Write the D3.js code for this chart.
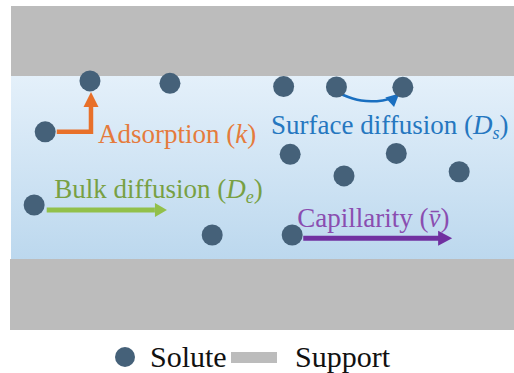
<!DOCTYPE html>
<html><head><meta charset="utf-8">
<script src="https://cdn.jsdelivr.net/npm/d3@7"></script>
<style>
html,body{margin:0;padding:0;background:#fff;}
svg{display:block;}
</style></head>
<body>
<svg id="chart" width="514" height="373"></svg>
<script>
// Diagram units: x along the channel 0..100, y across the channel 0 (top wall) .. 100 (bottom wall)
const soluteX = [15.7, 31.6, 54.2, 64.7, 77.9, 6.8, 55.5, 76.6, 66.2, 89.1, 4.6, 40.0, 55.9];
const soluteY = [2.7, 4.0, 5.8, 6.0, 6.2, 30.5, 42.8, 42.3, 54.6, 52.3, 70.5, 86.9, 86.9];

const processLabels = ["Adsorption", "Surface diffusion", "Bulk diffusion", "Capillarity"];
const processSymbols = ["k", "D", "D", "v\u0304"];
const processSubs = ["", "s", "e", ""];
const labelX = [17.3, 51.7, 8.6, 56.9];
const labelY = [36.6, 31.7, 66.7, 82.5];

// arrows: orange (adsorption elbow), green (bulk), purple (capillarity), blue curve (surface)
const adsorptionPath = [[9.1, 30.5], [15.9, 30.5], [15.9, 8.7]];
const bulkArrow = [[7.1, 73.2], [31.0, 73.2]];
const capArrow = [[58.1, 88.6], [87.7, 88.6]];
const surfaceCurve = [[65.2, 9.4], [69.5, 14.4], [74.5, 13.5], [77.2, 9.6]];

const legendLabels = ["Solute", "Support"];

const svg = d3.select("#chart");
const W = 514;
const x = d3.scaleLinear().domain([0, 100]).range([11, 514]);
const y = d3.scaleLinear().domain([0, 100]).range([76, 259]);
const FONT = '"Liberation Serif","Tinos","Times New Roman","DejaVu Serif",serif';

const defs = svg.append("defs");
const grad = defs.append("linearGradient").attr("id", "band").attr("x1", 0).attr("y1", 0).attr("x2", 0).attr("y2", 1);
grad.append("stop").attr("offset", "0%").attr("stop-color", "#e4f0fa");
grad.append("stop").attr("offset", "100%").attr("stop-color", "#bcd8ee");

// support walls
svg.append("rect").attr("x", x(0)).attr("y", 6).attr("width", W - x(0)).attr("height", y(0) - 6).attr("fill", "#bcbcbc");
svg.append("rect").attr("x", x(0) - 1).attr("y", y(100)).attr("width", W - x(0) + 1).attr("height", 330 - y(100)).attr("fill", "#bcbcbc");
// channel
svg.append("rect").attr("x", x(0)).attr("y", y(0)).attr("width", W - x(0)).attr("height", y(100) - y(0)).attr("fill", "url(#band)");

function arrowHead(g, tip, dir, len, half, color) {
  const [tx, ty] = tip;
  const [dx, dy] = dir;
  const nx = -dy, ny = dx;
  const bx = tx - dx * len, by = ty - dy * len;
  g.append("path")
    .attr("d", `M${tx},${ty}L${bx + nx * half},${by + ny * half}L${bx - nx * half},${by - ny * half}Z`)
    .attr("fill", color);
}

const line = d3.line().x(d => x(d[0])).y(d => y(d[1]));
const ga = svg.append("g");

// Adsorption elbow arrow
{
  const tip = adsorptionPath[2];
  const pts = adsorptionPath.slice(0, 2).concat([[tip[0], tip[1] + 7]]);
  ga.append("path").attr("d", line(pts)).attr("fill", "none").attr("stroke", "#e8702a").attr("stroke-width", 4.5);
  arrowHead(ga, [x(tip[0]), y(tip[1])], [0, -1], 15, 7.5, "#e8702a");
}
// Bulk arrow
ga.append("path").attr("d", line(bulkArrow.map((d, i) => i === 1 ? [d[0] - 2.4, d[1]] : d))).attr("stroke", "#92c04a").attr("stroke-width", 5);
arrowHead(ga, [x(bulkArrow[1][0]), y(bulkArrow[1][1])], [1, 0], 12, 7, "#92c04a");
// Capillarity arrow
ga.append("path").attr("d", line(capArrow.map((d, i) => i === 1 ? [d[0] - 2.4, d[1]] : d))).attr("stroke", "#7030a0").attr("stroke-width", 5);
arrowHead(ga, [x(capArrow[1][0]), y(capArrow[1][1])], [1, 0], 14, 7.5, "#7030a0");
// Surface diffusion curve
const curve = d3.line().x(d => x(d[0])).y(d => y(d[1])).curve(d3.curveBasis);
ga.append("path").attr("d", curve(surfaceCurve.slice(0, 3).concat([[76.0, 11.6]])))
  .attr("fill", "none").attr("stroke", "#1a6fc0").attr("stroke-width", 2.5);
arrowHead(ga, [x(surfaceCurve[3][0]), y(surfaceCurve[3][1])], [0.74, -0.67], 13, 6.5, "#1a6fc0");

// solutes
svg.append("g").selectAll("circle").data(soluteX).join("circle")
  .attr("cx", d => x(d)).attr("cy", (d, i) => y(soluteY[i])).attr("r", 10.5).attr("fill", "#456179");

// labels
const textColors = ["#e57b3c", "#2577c0", "#78a043", "#8a4db0"];
const sizes = [27, 27, 27, 27];
processLabels.forEach((lab, i) => {
  const t = svg.append("text").attr("x", x(labelX[i])).attr("y", y(labelY[i]))
    .style("font-family", FONT)
    .attr("fill", textColors[i]).attr("font-size", sizes[i]);
  t.append("tspan").text(lab + " (");
  t.append("tspan").attr("font-style", "italic").text(processSymbols[i]);
  if (processSubs[i]) {
    t.append("tspan").attr("font-style", "italic").attr("font-size", 18).attr("dy", 5).text(processSubs[i]);
    t.append("tspan").attr("dy", -5).text(")");
  } else {
    t.append("tspan").text(")");
  }
});

// legend
const lg = svg.append("g");
lg.append("circle").attr("cx", 125).attr("cy", 357).attr("r", 10).attr("fill", "#456179");
lg.append("text").attr("x", 150).attr("y", 367).style("font-family", FONT).attr("font-size", 30).attr("fill", "#111").text(legendLabels[0]);
lg.append("rect").attr("x", 231).attr("y", 352).attr("width", 46).attr("height", 11).attr("fill", "#bcbcbc");
lg.append("text").attr("x", 295).attr("y", 367).style("font-family", FONT).attr("font-size", 30).attr("fill", "#111").text(legendLabels[1]);
</script>
</body></html>
